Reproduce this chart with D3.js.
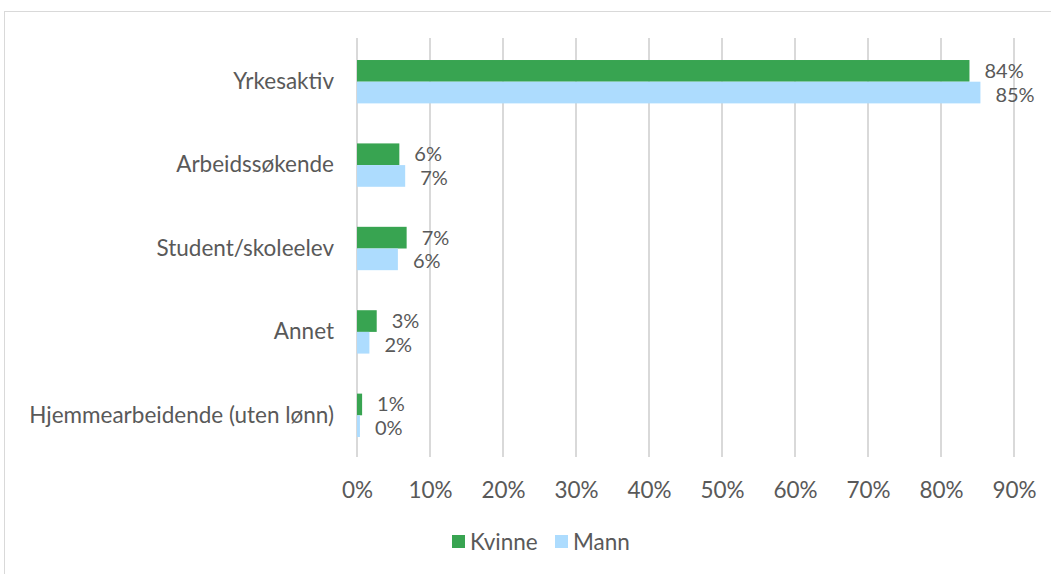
<!DOCTYPE html>
<html><head><meta charset="utf-8">
<script src="https://cdn.jsdelivr.net/npm/d3@7"></script>
<style>
html,body{margin:0;padding:0;background:#fff;}
text{font-family:Lato,"Open Sans",sans-serif;fill:#595959;}
</style></head>
<body>
<svg id="chart" width="1051" height="574"></svg>
<script>
const categories = ["Yrkesaktiv","Arbeidssøkende","Student/skoleelev","Annet","Hjemmearbeidende (uten lønn)"];
const seriesNames = ["Kvinne","Mann"];
const kvinne = [0.839, 0.058, 0.068, 0.027, 0.007];
const mann   = [0.854, 0.066, 0.056, 0.017, 0.004];
const tickValues = [0,0.1,0.2,0.3,0.4,0.5,0.6,0.7,0.8,0.9];
const colors = ["#38a451","#addcfe"];

(function(){
const svg = d3.select("#chart");
const W = 1051, H = 574;
const mLeft = 357, mRight = 1014, mTop = 40, mBottom = 457;
const fs = 22.5, fsVal = 20;

svg.append("rect").attr("x",4.5).attr("y",11.5).attr("width",W+10).attr("height",H+10)
  .attr("fill","#fff").attr("stroke","#d9d9d9");

const x = d3.scaleLinear().domain([0,0.9]).range([mLeft,mRight]);
const y0 = d3.scaleBand().domain(categories).range([mTop,mBottom]).padding(0);
const y1 = d3.scaleBand().domain(seriesNames).range([y0.step()*0.24, y0.step()*0.76]).padding(0);

svg.append("g").selectAll("line").data(tickValues).join("line")
  .attr("x1",d=>x(d)).attr("x2",d=>x(d)).attr("y1",mTop-2).attr("y2",mBottom)
  .attr("stroke","#d9d9d9").attr("stroke-width",2);

const xAxis = d3.axisBottom(x).tickValues(tickValues).tickFormat(d3.format(".0%")).tickSize(0).tickPadding(0);
const gx = svg.append("g").attr("transform",`translate(0,${mBottom+33})`).call(xAxis);
gx.select(".domain").remove();
gx.selectAll("text").attr("font-size",fs).attr("font-family","Lato").attr("fill","#595959").attr("dy","0.35em");

const yAxis = d3.axisLeft(y0).tickSize(0).tickPadding(0);
const gy = svg.append("g").attr("transform",`translate(${mLeft-23},0)`).call(yAxis);
gy.select(".domain").remove();
gy.selectAll("text").attr("font-size",fs).attr("font-family","Lato").attr("fill","#595959");

const data = categories.map((c,i)=>({cat:c, vals:[{s:seriesNames[0],v:kvinne[i]},{s:seriesNames[1],v:mann[i]}]}));
const groups = svg.append("g").selectAll("g").data(data).join("g")
  .attr("transform",d=>`translate(0,${y0(d.cat)})`);
groups.selectAll("rect").data(d=>d.vals).join("rect")
  .attr("x",x(0)).attr("y",d=>y1(d.s)).attr("width",d=>x(d.v)-x(0)).attr("height",y1.bandwidth())
  .attr("fill",(d,i)=>colors[i]);
groups.selectAll("text").data(d=>d.vals).join("text")
  .attr("x",d=>x(d.v)+15).attr("y",(d,i)=>y1(d.s)+y1.bandwidth()/2+(i===0?0:2)).attr("dy","0.35em")
  .attr("font-size",fsVal).text(d=>d3.format(".0%")(d.v));

const leg = svg.append("g").attr("transform","translate(452,535)");
const legItems = [{n:seriesNames[0],c:colors[0],x:0},{n:seriesNames[1],c:colors[1],x:103}];
legItems.forEach(it=>{
  leg.append("rect").attr("x",it.x).attr("y",0).attr("width",13).attr("height",13).attr("fill",it.c);
  leg.append("text").attr("x",it.x+18).attr("y",7).attr("dy","0.35em").attr("font-size",fs).text(it.n);
});
})();
</script>
</body></html>
